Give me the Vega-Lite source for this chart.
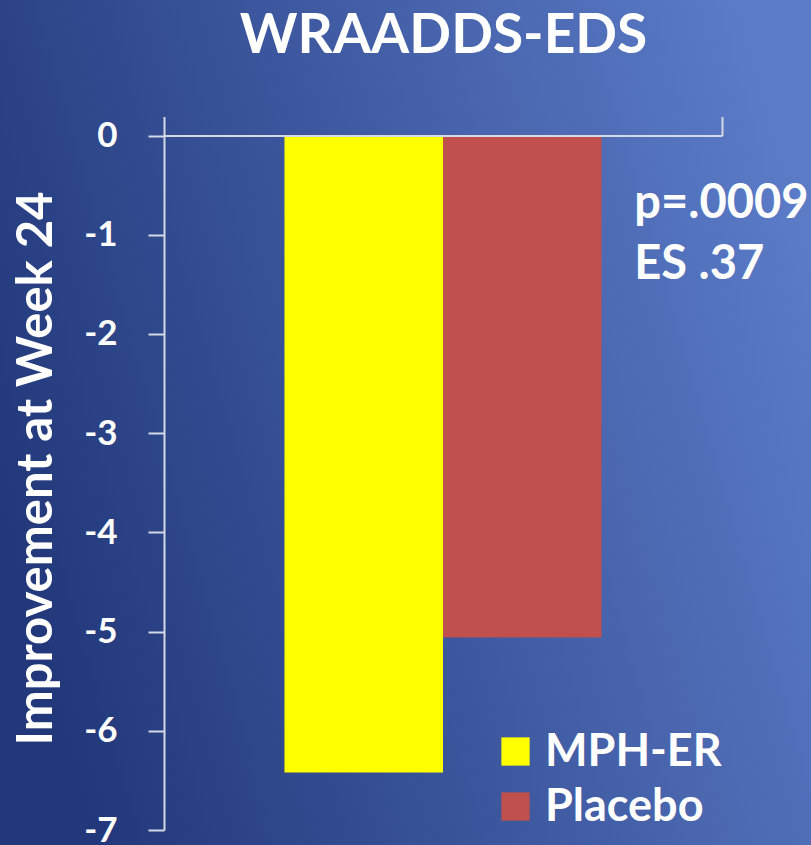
{
  "$schema": "https://vega.github.io/schema/vega-lite/v6.json",
  "width": 811,
  "height": 845,
  "autosize": {"type": "none"},
  "padding": 0,
  "background": "#3a55a0",
  "config": {"view": {"stroke": null}, "font": "Lato"},
  "title": {
    "text": "WRAADDS-EDS",
    "color": "white",
    "fontSize": 55,
    "font": "Lato",
    "fontWeight": "bold",
    "anchor": "middle",
    "frame": "group",
    "dx": 38,
    "offset": -108,
    "baseline": "alphabetic"
  },
  "datasets": {
    "bars": [
      {"group": "Week 24", "series": "MPH-ER", "value": -6.42},
      {"group": "Week 24", "series": "Placebo", "value": -5.06}
    ],
    "notes": [
      {"group": "Week 24", "series": "Placebo", "label": "p=.0009", "pos": -0.83},
      {"group": "Week 24", "series": "Placebo", "label": "ES .37", "pos": -1.45}
    ]
  },
  "layer": [
    {
      "data": {"values": [{}]},
      "mark": {
        "type": "rect",
        "fill": {
          "gradient": "linear",
          "x1": 0, "y1": 0.6, "x2": 1, "y2": 0.3,
          "stops": [
            {"offset": 0, "color": "#22387a"},
            {"offset": 1, "color": "#5b7bc7"}
          ]
        }
      },
      "encoding": {}
    },
    {
      "data": {"name": "bars"},
      "mark": {"type": "bar"},
      "encoding": {
        "x": {
          "field": "group",
          "type": "nominal",
          "scale": {"range": [164, 722], "paddingInner": 0, "paddingOuter": 0},
          "axis": {
            "orient": "top",
            "offset": -135.5,
            "zindex": 1,
            "labels": false,
            "title": null,
            "tickBand": "extent",
            "tickSize": 19,
            "domainColor": "#d4d9e6",
            "tickColor": "#d4d9e6",
            "domainWidth": 2,
            "tickWidth": 2
          }
        },
        "xOffset": {
          "field": "series",
          "type": "nominal",
          "scale": {"paddingInner": 0, "paddingOuter": 0.76, "align": 0.5}
        },
        "y": {
          "field": "value",
          "type": "quantitative",
          "scale": {"domain": [-7, 0], "range": [830, 135.5], "nice": false, "zero": false},
          "axis": {
            "orient": "left",
            "offset": -164,
            "zindex": 1,
            "values": [0, -1, -2, -3, -4, -5, -6, -7],
            "labelExpr": "datum.value == 0 ? '0' : '-' + abs(datum.value)",
            "title": "Improvement at Week 24",
            "titleFontSize": 49,
            "titleFont": "Lato",
            "titleFontWeight": "bold",
            "titleColor": "white",
            "titlePadding": 22,
            "titleY": 468,
            "labelFontSize": 35,
            "labelFont": "Lato",
            "labelFontWeight": "bold",
            "labelColor": "white",
            "labelPadding": 31,
            "labelOverlap": false,
            "tickSize": 16,
            "tickColor": "#d4d9e6",
            "tickWidth": 2,
            "domainColor": "#d4d9e6",
            "domainWidth": 2,
            "grid": false
          }
        },
        "color": {
          "field": "series",
          "type": "nominal",
          "scale": {"domain": ["MPH-ER", "Placebo"], "range": ["#ffff00", "#c0504d"]},
          "legend": {
            "orient": "none",
            "legendX": 493,
            "legendY": 729,
            "title": null,
            "symbolType": "square",
            "symbolSize": 800,
            "symbolStrokeWidth": 0,
            "labelFontSize": 45,
            "labelFont": "Lato",
            "labelFontWeight": "bold",
            "labelColor": "white",
            "labelLimit": 400,
            "labelOffset": 7,
            "rowPadding": 9
          }
        }
      }
    },
    {
      "data": {"name": "notes"},
      "mark": {
        "type": "text",
        "align": "left",
        "baseline": "alphabetic",
        "dx": 112,
        "fontSize": 47,
        "font": "Lato",
        "fontWeight": "bold",
        "color": "white"
      },
      "encoding": {
        "x": {"field": "group", "type": "nominal"},
        "xOffset": {"field": "series", "type": "nominal"},
        "y": {"field": "pos", "type": "quantitative"},
        "text": {"field": "label"}
      }
    }
  ]
}
